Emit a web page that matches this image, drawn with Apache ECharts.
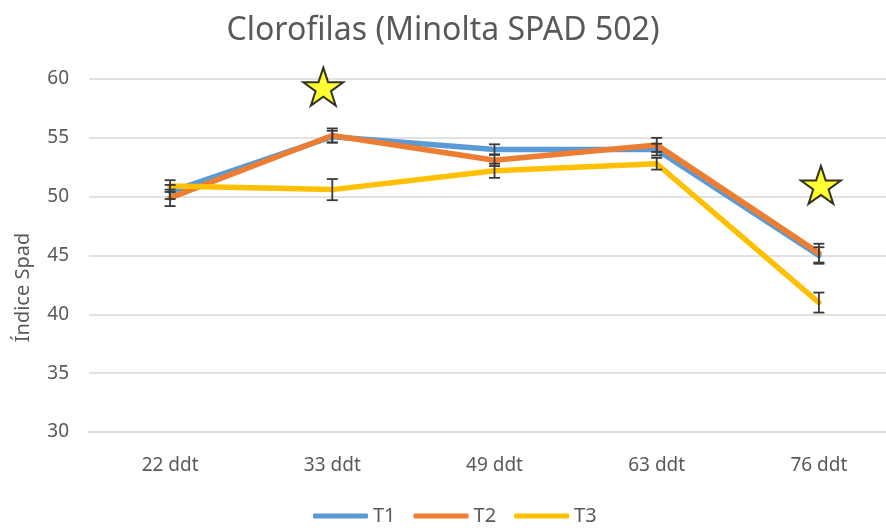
<!DOCTYPE html>
<html>
<head>
<meta charset="utf-8">
<script src="https://cdn.jsdelivr.net/npm/echarts@6/dist/echarts.min.js"></script>
<style>
  html, body { margin: 0; padding: 0; background: #fff; }
  #main { width: 886px; height: 531px; }
</style>
</head>
<body>
<div id="main"></div>
<script>
// categorias (dias después del trasplante)
var categories = ['22 ddt', '33 ddt', '49 ddt', '63 ddt', '76 ddt'];
var yTicks = [30, 35, 40, 45, 50, 55, 60];

// valores SPAD por tratamiento
var t1 = [50.4, 55.1, 54.0, 54.0, 45.0];
var t2 = [49.9, 55.2, 53.1, 54.4, 45.2];
var t3 = [50.9, 50.6, 52.2, 52.8, 41.0];

// barras de error (+/-)
var t1Err = [0.6, 0.5, 0.45, 0.5, 0.7];
var t2Err = [0.7, 0.6, 0.5, 0.6, 0.8];
var t3Err = [0.5, 0.9, 0.6, 0.5, 0.85];

// estrellas (diferencias significativas)
var starCats = ['33 ddt', '76 ddt'];
var starVals = [59.35, 51.0];

var colors = ['#5B9BD5', '#ED7D31', '#FFC000'];
var grayText = '#595959';
var font = 'Noto Sans';

var starPath = 'path://M50,2 L61.8,37.6 L99,37.6 L68.9,59.6 L80.4,95 L50,73 L19.6,95 L31.1,59.6 L1,37.6 L38.2,37.6 Z';

function errSeries(vals, errs) {
  return {
    type: 'custom',
    data: vals.map(function (v, i) { return [i, v - errs[i], v + errs[i]]; }),
    z: 5,
    silent: true,
    renderItem: function (params, api) {
      var x = api.value(0);
      var lo = api.coord([x, api.value(1)]);
      var hi = api.coord([x, api.value(2)]);
      var w = 5.5;
      var st = { stroke: '#3a3a3a', lineWidth: 1.8 };
      return {
        type: 'group',
        children: [
          { type: 'line', shape: { x1: lo[0], y1: lo[1], x2: hi[0], y2: hi[1] }, style: st },
          { type: 'line', shape: { x1: lo[0] - w, y1: lo[1], x2: lo[0] + w, y2: lo[1] }, style: st },
          { type: 'line', shape: { x1: hi[0] - w, y1: hi[1], x2: hi[0] + w, y2: hi[1] }, style: st }
        ]
      };
    }
  };
}

function lineSeries(name, vals, color, z) {
  return {
    name: name,
    type: 'line',
    data: vals,
    showSymbol: false,
    symbol: 'none',
    z: z,
    lineStyle: { color: color, width: 5.5, cap: 'round', join: 'round' },
    itemStyle: { color: color }
  };
}

var myChart = echarts.init(document.getElementById('main'));

var option = {
  backgroundColor: '#fff',
  animation: false,
  textStyle: { fontFamily: font },
  title: {
    text: 'Clorofilas (Minolta SPAD 502)',
    left: 'center',
    top: 10,
    textStyle: { fontFamily: font, fontSize: 32, fontWeight: 'normal', color: grayText }
  },
  legend: {
    bottom: 0,
    left: 308,
    itemWidth: 55,
    itemHeight: 5,
    itemGap: 18,
    icon: 'roundRect',
    textStyle: { fontFamily: font, fontSize: 20, color: grayText },
    data: ['T1', 'T2', 'T3']
  },
  grid: { left: 89, top: 79, width: 811, height: 353, containLabel: false, outerBoundsMode: 'none' },
  xAxis: {
    type: 'category',
    data: categories,
    boundaryGap: true,
    axisLine: { lineStyle: { color: '#d9d9d9', width: 1.5 } },
    axisTick: { show: false },
    axisLabel: { margin: 24, fontSize: 19, color: grayText, fontFamily: font }
  },
  yAxis: {
    type: 'value',
    min: yTicks[0],
    max: yTicks[yTicks.length - 1],
    interval: 5,
    name: 'Índice Spad',
    nameLocation: 'middle',
    nameGap: 56,
    nameRotate: 90,
    nameTextStyle: { fontSize: 20, color: grayText, fontFamily: font, padding: [0, 64, 0, 0] },
    axisLine: { show: false },
    axisTick: { show: false },
    splitLine: { lineStyle: { color: '#d9d9d9', width: 1.5 } },
    axisLabel: { margin: 20, fontSize: 19, color: grayText, fontFamily: font }
  },
  series: [
    lineSeries('T1', t1, colors[0], 2),
    errSeries(t1, t1Err),
    lineSeries('T2', t2, colors[1], 3),
    errSeries(t2, t2Err),
    lineSeries('T3', t3, colors[2], 4),
    errSeries(t3, t3Err),
    {
      type: 'scatter',
      data: starCats.map(function (c, i) {
        return { value: [c, starVals[i]], symbolOffset: i === 0 ? [-9, 0] : [2, 0] };
      }),
      symbol: starPath,
      symbolSize: [40, 38],
      z: 10,
      itemStyle: { color: '#FFFF00', borderColor: '#000', borderWidth: 2 }
    }
  ]
};

myChart.setOption(option);
</script>
</body>
</html>
